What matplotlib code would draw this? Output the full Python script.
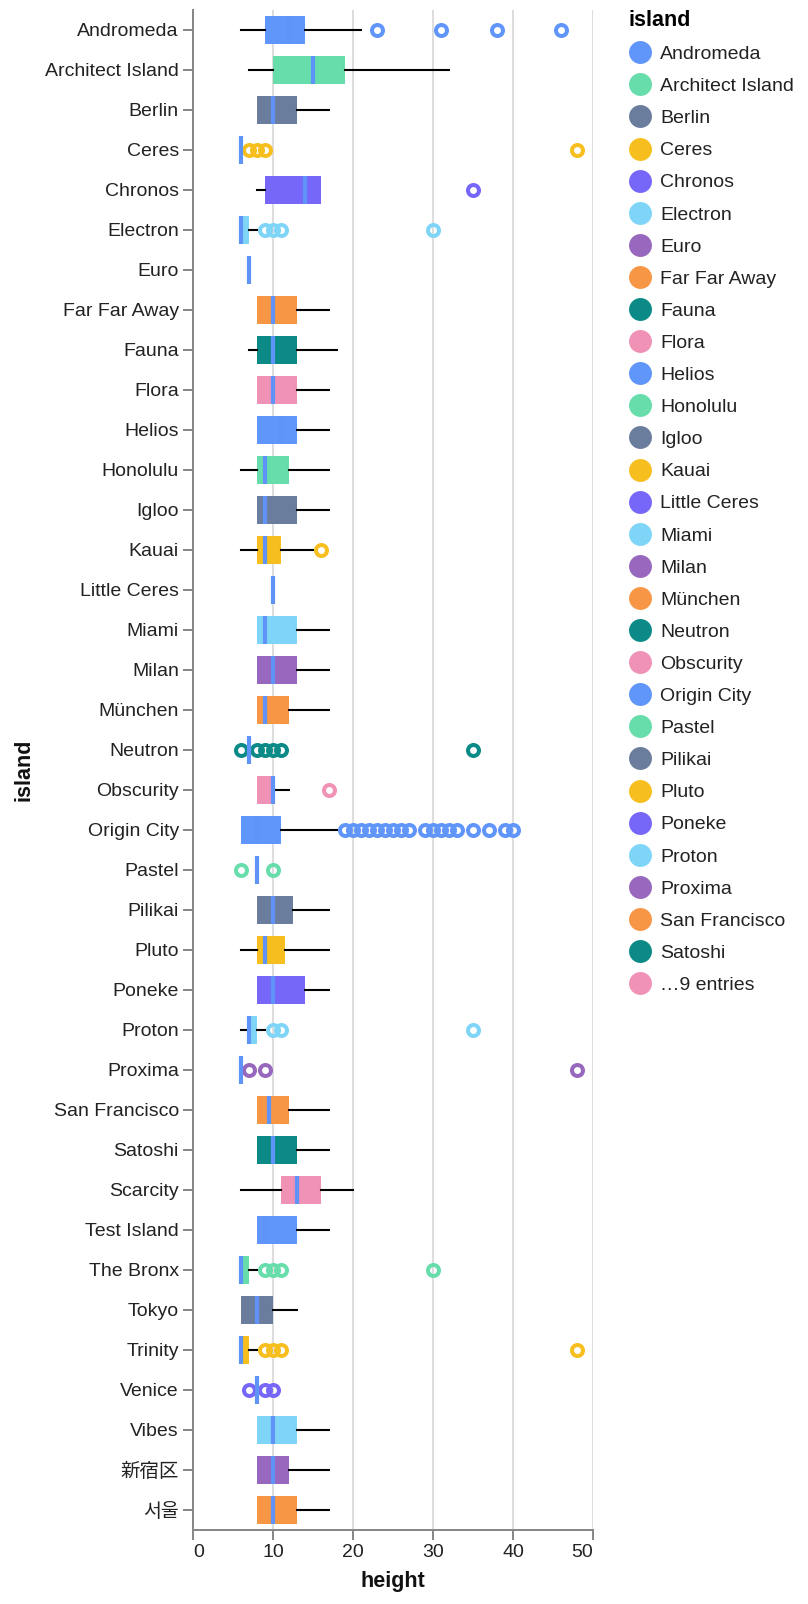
import matplotlib.pyplot as plt
from matplotlib.lines import Line2D
import numpy as np

plt.rcParams['font.family'] = ['Liberation Sans', 'Noto Sans CJK JP']

islands = ["Andromeda", "Architect Island", "Berlin", "Ceres", "Chronos", "Electron", "Euro",
           "Far Far Away", "Fauna", "Flora", "Helios", "Honolulu", "Igloo", "Kauai",
           "Little Ceres", "Miami", "Milan", "München", "Neutron", "Obscurity", "Origin City",
           "Pastel", "Pilikai", "Pluto", "Poneke", "Proton", "Proxima", "San Francisco",
           "Satoshi", "Scarcity", "Test Island", "The Bronx", "Tokyo", "Trinity", "Venice",
           "Vibes", "新宿区", "서울"]

# box plot stats
whisk_lo = [6, 7, 8, 6, 8, 6, 7, 8, 7, 8, 8, 6, 8, 6, 10, 8, 8, 8, 7, 8, 6, 8, 8, 6, 8, 6, 6,
            8, 8, 6, 8, 6, 6, 6, 8, 8, 8, 8]
q1 = [9, 10, 8, 6, 9, 6, 7, 8, 8, 8, 8, 8, 8, 8, 10, 8, 8, 8, 7, 8, 6, 8, 8, 8, 8, 7, 6,
      8, 8, 11, 8, 6, 6, 6, 8, 8, 8, 8]
median = [12, 15, 10, 6, 14, 6, 7, 10, 10, 10, 11, 9, 9, 9, 10, 9, 10, 9, 7, 10, 8, 8, 10, 9,
          10, 7, 6, 9.5, 10, 13, 9, 6, 8, 6, 8, 10, 10, 10]
q3 = [14, 19, 13, 6, 16, 7, 7, 13, 13, 13, 13, 12, 13, 11, 10, 13, 13, 12, 7, 10, 11, 8, 12.5,
      11.5, 14, 8, 6, 12, 13, 16, 13, 7, 10, 7, 8, 13, 12, 13]
whisk_hi = [21, 32, 17, 6, 16, 8, 7, 17, 18, 17, 17, 17, 17, 15, 10, 17, 17, 17, 7, 12, 18, 8,
            17, 17, 17, 9, 6, 17, 17, 20, 17, 8, 13, 8, 8, 17, 17, 17]
outliers = {
    "Andromeda": [23, 31, 38, 46],
    "Ceres": [7, 8, 9, 48],
    "Chronos": [35],
    "Electron": [9, 10, 11, 30],
    "Kauai": [16],
    "Neutron": [6, 8, 9, 10, 11, 35],
    "Obscurity": [17],
    "Origin City": [19, 20, 21, 22, 23, 24, 25, 26, 27, 29, 30, 31, 32, 33, 35, 37, 39, 40],
    "Pastel": [6, 10],
    "Proton": [10, 11, 35],
    "Proxima": [7, 9, 48],
    "The Bronx": [9, 10, 11, 30],
    "Trinity": [9, 10, 11, 48],
    "Venice": [7, 9, 10],
}

palette = ["#6095f9", "#66ddab", "#6b7d9d", "#f6bf1f", "#7667f9", "#7fd5f7", "#9768bd",
           "#f79746", "#0b8a87", "#f091b6"]
median_color = "#5f93f8"
legend_shown = 29

colors = [palette[i % len(palette)] for i in range(len(islands))]

stats = []
for i, name in enumerate(islands):
    stats.append(dict(label=name, whislo=whisk_lo[i], q1=q1[i], med=median[i], q3=q3[i],
                      whishi=whisk_hi[i], fliers=outliers.get(name, [])))

fig = plt.figure(figsize=(8.08, 16.04), dpi=100)
ax = fig.add_axes([193 / 808, 74 / 1604, 400 / 808, 1520 / 1604])

pos = np.arange(len(islands))
art = ax.bxp(stats, positions=pos, widths=0.7, orientation='horizontal', patch_artist=True,
             showcaps=False,
             whiskerprops=dict(color='black', linewidth=1.5),
             boxprops=dict(linewidth=0),
             medianprops=dict(color=median_color, linewidth=3, solid_capstyle='butt'),
             flierprops=dict(marker='o', markerfacecolor='none', markersize=7.9,
                             markeredgewidth=2.9))
for i, c in enumerate(colors):
    art['boxes'][i].set_facecolor(c)
    art['boxes'][i].set_edgecolor('none')
    art['fliers'][i].set_markeredgecolor(c)
    art['medians'][i].set_zorder(3)

ax.set_xlim(0, 50)
ax.set_ylim(len(islands) - 0.5, -0.5)
ax.set_xticks(range(0, 51, 10))
ax.set_yticks(pos)
ax.set_yticklabels(islands)
ax.set_axisbelow(True)
ax.xaxis.grid(True, color='#dddddd', linewidth=1.44)

for side in ['top', 'right']:
    ax.spines[side].set_visible(False)
for side in ['left', 'bottom']:
    ax.spines[side].set_color('#888888')
    ax.spines[side].set_linewidth(1.44)

ax.tick_params(axis='both', length=7.2, width=1.44, color='#888888', labelsize=14,
               labelcolor='#222222', pad=3)
xl = ax.get_xticklabels()
xl[0].set_horizontalalignment('left')
xl[-1].set_horizontalalignment('right')

ax.set_xlabel('height', fontsize=15.5, fontweight='bold', color='#111111')
ax.xaxis.set_label_coords(0.5, -0.027)
ax.set_ylabel('island', fontsize=15.5, fontweight='bold', color='#111111')
ax.yaxis.set_label_coords(-0.395, 0.5)

handles = [Line2D([], [], linestyle='none', marker='o', markersize=16.5, markeredgewidth=0,
                  markerfacecolor=colors[i]) for i in range(legend_shown + 1)]
handles[-1].set_markerfacecolor(palette[legend_shown % len(palette)])
labels = islands[:legend_shown] + ["…%d entries" % (len(islands) - legend_shown)]
leg = fig.legend(handles, labels, loc='upper left', bbox_to_anchor=(628 / 808, 1 - 10 / 1604),
                 frameon=False, fontsize=14, title='island', alignment='left',
                 borderpad=0, borderaxespad=0, handlelength=1.2, handletextpad=0.45,
                 labelspacing=0.745)
leg.get_title().set_fontweight('bold')
leg.get_title().set_fontsize(15.5)
for t in leg.get_texts():
    t.set_color('#222222')

fig.savefig('out.png', dpi=100)
